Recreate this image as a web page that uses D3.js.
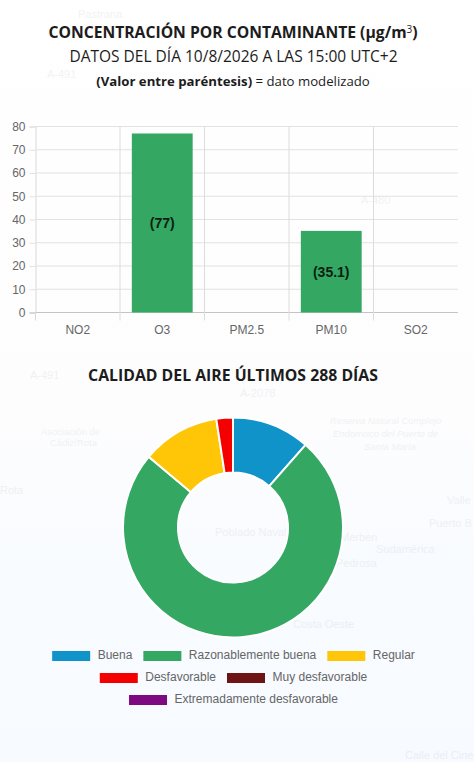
<!DOCTYPE html>
<html>
<head>
<meta charset="utf-8">
<script src="https://cdn.jsdelivr.net/npm/d3@7"></script>
<style>
  html, body { margin: 0; padding: 0; background: #fff; overflow: hidden; }
  svg { display: block; }
  .titulo { font-family: "Open Sans", sans-serif; fill: #1c1c1c; text-anchor: middle; }
  .eje text { font-family: "Liberation Sans", Arial, sans-serif; font-size: 12px; fill: #666; }
  .mapa { font-family: "Liberation Sans", Arial, sans-serif; font-size: 11px; fill: #8a8f98; opacity: .11; }
</style>
</head>
<body>
<svg id="chart"></svg>
<script>
// contaminantes (barras)
var contaminantes = ['NO2', 'O3', 'PM2.5', 'PM10', 'SO2'];
var concentraciones = [null, 77, null, 35.1, null];
var etiquetasValor = ['', '(77)', '', '(35.1)', ''];
var ticksY = [0, 10, 20, 30, 40, 50, 60, 70, 80];

// calidad del aire (dias por categoria)
var categorias = ['Buena', 'Razonablemente buena', 'Regular', 'Desfavorable', 'Muy desfavorable', 'Extremadamente desfavorable'];
var dias = [33, 215, 33, 7, 0, 0];
var colores = ['#0f93c8', '#34a862', '#ffc608', '#f50000', '#6f1414', '#7d0a80'];

// rotulos del mapa de fondo
var rotulosMapa = ['Pastrana', 'Rota', 'Poblado Naval', 'Costa Oeste', 'Sudamérica', 'Puerto B', 'Valle', 'Merben', 'Pedrosa', 'Calle del Cine', 'A-491', 'A-480', 'A-491', 'A-2078', 'Asociación de', 'Cádiz/Rota', 'Reserva Natural Complejo', 'Endorreico del Puerto de', 'Santa María'];
var rotulosX = [78, 0, 215, 293, 376, 429, 447, 340, 336, 405, 47, 361, 30, 240, 41, 50, 330, 333, 364];
var rotulosY = [18, 494, 536, 628, 553, 527, 504, 541, 567, 759, 78, 204, 379, 397, 435, 446, 424, 437, 450];

var width = 474, height = 762;
var svg = d3.select('#chart').attr('width', width).attr('height', height);

var defs = svg.append('defs');
var grad = defs.append('linearGradient').attr('id', 'fondo')
  .attr('x1', 0).attr('y1', 0).attr('x2', 0).attr('y2', 1);
grad.append('stop').attr('offset', '0%').attr('stop-color', '#ffffff');
grad.append('stop').attr('offset', '55%').attr('stop-color', '#fdfdfe');
grad.append('stop').attr('offset', '75%').attr('stop-color', '#f8fbff');
grad.append('stop').attr('offset', '100%').attr('stop-color', '#f7faff');
svg.append('rect').attr('width', width).attr('height', height).attr('fill', 'url(#fondo)');

svg.selectAll('.mapa').data(rotulosMapa).enter().append('text')
  .attr('class', 'mapa')
  .attr('x', function(d, i) { return rotulosX[i]; })
  .attr('y', function(d, i) { return rotulosY[i]; })
  .style('font-size', function(d, i) { return i >= 14 ? '9.5px' : '11px'; })
  .style('font-style', function(d, i) { return i >= 16 ? 'italic' : 'normal'; })
  .text(function(d) { return d; });

// titulos
var t1 = svg.append('text').attr('class', 'titulo').attr('x', 233).attr('y', 38)
  .style('font-size', '15.7px').style('font-weight', 700);
t1.append('tspan').text('CONCENTRACIÓN POR CONTAMINANTE (µg/m');
t1.append('tspan').text('3').attr('dy', -5).style('font-size', '10px').style('font-weight', 400);
t1.append('tspan').text(')').attr('dy', 5);

svg.append('text').attr('class', 'titulo').attr('x', 233.5).attr('y', 62)
  .style('font-size', '15.5px').text('DATOS DEL DÍA 10/8/2026 A LAS 15:00 UTC+2');

var t3 = svg.append('text').attr('class', 'titulo').attr('x', 233).attr('y', 86)
  .style('font-size', '13.2px');
t3.append('tspan').text('(Valor entre paréntesis)').style('font-weight', 700);
t3.append('tspan').text(' = dato modelizado');

svg.append('text').attr('class', 'titulo').attr('x', 233).attr('y', 381)
  .style('font-size', '15.8px').style('font-weight', 700).text('CALIDAD DEL AIRE ÚLTIMOS 288 DÍAS');

// barras
var x = d3.scaleBand().domain(contaminantes).range([35.5, 458]);
var y = d3.scaleLinear().domain([0, 80]).range([312.5, 126.5]);
var anchoBarra = x.bandwidth() * 0.72;

var ejeY = svg.append('g').attr('class', 'eje')
  .attr('transform', 'translate(35.5,0)')
  .call(d3.axisLeft(y).tickValues(ticksY).tickSize(6).tickPadding(4));
ejeY.select('.domain').attr('stroke', '#d9d9d9');
ejeY.selectAll('.tick line').attr('stroke', function(d) { return d == 0 ? '#c4c4c4' : '#e2e2e2'; });

svg.append('g').selectAll('line').data(ticksY).enter().append('line')
  .attr('x1', 35.5).attr('x2', 458)
  .attr('y1', function(d) { return y(d); })
  .attr('y2', function(d) { return y(d); })
  .attr('stroke', function(d) { return d == 0 ? '#c4c4c4' : '#e2e2e2'; });

svg.append('g').selectAll('line').data(contaminantes.slice(1)).enter().append('line')
  .attr('x1', function(d) { return x(d); })
  .attr('x2', function(d) { return x(d); })
  .attr('y1', y(80)).attr('y2', y(0) + 8)
  .attr('stroke', '#dcdcdc');

var ejeX = svg.append('g').attr('class', 'eje')
  .attr('transform', 'translate(0,' + y(0) + ')')
  .call(d3.axisBottom(x).tickSize(0).tickPadding(13));
ejeX.select('.domain').remove();
svg.append('line').attr('x1', 35.5).attr('x2', 35.5).attr('y1', y(0)).attr('y2', y(0) + 8).attr('stroke', '#d9d9d9');

contaminantes.forEach(function(c, i) {
  if (concentraciones[i] == null) return;
  svg.append('rect')
    .attr('x', x(c) + (x.bandwidth() - anchoBarra) / 2)
    .attr('y', y(concentraciones[i]))
    .attr('width', anchoBarra)
    .attr('height', y(0) - y(concentraciones[i]))
    .attr('fill', colores[1]);
  svg.append('text')
    .attr('x', x(c) + x.bandwidth() / 2)
    .attr('y', (y(concentraciones[i]) + y(0)) / 2 + 5)
    .attr('text-anchor', 'middle')
    .style('font-family', '"Liberation Sans", Arial, sans-serif')
    .style('font-size', '14px').style('font-weight', 700)
    .style('fill', '#0c1f12')
    .text(etiquetasValor[i]);
});

// donut
var pie = d3.pie().sort(null).value(function(d) { return d; });
var arc = d3.arc().innerRadius(55).outerRadius(110);
svg.append('g').attr('transform', 'translate(233,527.5)')
  .selectAll('path').data(pie(dias)).enter().append('path')
  .attr('d', arc)
  .attr('fill', function(d, i) { return colores[i]; })
  .attr('stroke', '#fff').attr('stroke-width', 2);

// leyenda: filas centradas, parte cuando no cabe
var leyenda = svg.append('g').attr('class', 'eje');
var anchoCaja = 38, altoCaja = 10, gapTexto = 7.5, gapItem = 11, maxAncho = 450;
var filas = [[]], anchoFila = 0;
categorias.forEach(function(c, i) {
  var t = leyenda.append('text').attr('fill', '#666').text(c);
  var w = anchoCaja + gapTexto + t.node().getComputedTextLength();
  if (anchoFila + w > maxAncho && filas[filas.length - 1].length) {
    filas.push([]);
    anchoFila = 0;
  }
  filas[filas.length - 1].push({ i: i, w: w, t: t });
  anchoFila += w + gapItem;
});
filas.forEach(function(fila, f) {
  var total = d3.sum(fila, function(d) { return d.w; }) + gapItem * (fila.length - 1);
  var px = 233.5 - total / 2;
  var py = 655.5 + f * 22;
  fila.forEach(function(d) {
    leyenda.append('rect')
      .attr('x', px).attr('y', py - altoCaja / 2 + 0.5)
      .attr('width', anchoCaja).attr('height', altoCaja)
      .attr('fill', colores[d.i]);
    d.t.attr('x', px + anchoCaja + gapTexto).attr('y', py + 3.5);
    px += d.w + gapItem;
  });
});
</script>
</body>
</html>
